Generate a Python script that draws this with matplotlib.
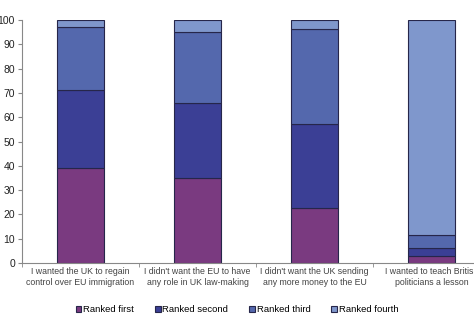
import matplotlib
matplotlib.use("Agg")
import matplotlib.pyplot as plt
import numpy as np

categories = ["I wanted the UK to regain\ncontrol over EU immigration",
              "I didn't want the EU to have\nany role in UK law-making",
              "I didn't want the UK sending\nany more money to the EU",
              "I wanted to teach British\npoliticians a lesson"]
series_names = ["Ranked first", "Ranked second", "Ranked third", "Ranked fourth"]
ranked_first = [39, 35, 22.5, 3]
ranked_second = [32, 31, 34.5, 3]
ranked_third = [26, 29, 39.5, 5.7]
ranked_fourth = [3, 5, 3.5, 88.3]
colors = ["#7a3a80", "#3b3f95", "#5468ad", "#7f97cc"]

plt.rcParams['font.family'] = ['Liberation Sans', 'DejaVu Sans']
fig = plt.figure(figsize=(4.74, 3.24), dpi=100)
ax = fig.add_axes([22/474, 1-263/324, 468/474, 243/324])

x = np.arange(len(categories))
bottom = np.zeros(len(categories))
handles = []
for name, vals, c in zip(series_names, [ranked_first, ranked_second, ranked_third, ranked_fourth], colors):
    b = ax.bar(x, vals, width=0.4, bottom=bottom, color=c, edgecolor="#26264a", linewidth=0.8, label=name)
    bottom += np.array(vals)
    handles.append(b)

ax.set_xlim(-0.5, 3.5)
ax.set_ylim(0, 100)
ax.set_yticks(range(0, 101, 10))
ax.tick_params(axis='y', labelsize=7.5, length=3, color="#888888", pad=2, colors="#222222")
ax.set_xticks(x)
ax.set_xticklabels(categories, fontsize=6.3, color="#444444")
ax.tick_params(axis='x', length=0, pad=3)
ax.set_xticks(np.arange(-0.5, 4, 1), minor=True)
ax.tick_params(axis='x', which='minor', length=3, color="#888888")
for s in ["top", "right"]:
    ax.spines[s].set_visible(False)
ax.spines["left"].set_color("#888888")
ax.spines["bottom"].set_color("#888888")

fig.legend(handles=handles, labels=series_names, loc="center", bbox_to_anchor=(237/474, 1-310/324),
           ncol=4, frameon=False, fontsize=6.8, handlelength=0.6, handleheight=0.6,
           handletextpad=0.2, columnspacing=2.2)

fig.savefig("out.png", dpi=100)
